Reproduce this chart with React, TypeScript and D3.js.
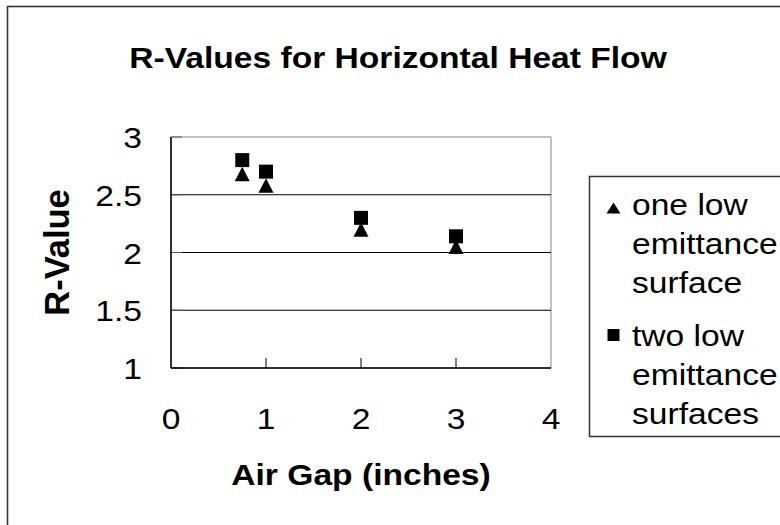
import React from "react";
import * as d3 from "d3";

// air gap (inches) and measured R-values
const gaps = [0.75, 1, 2, 3];
const oneLowE = [2.68, 2.58, 2.2, 2.05];
const twoLowE = [2.8, 2.7, 2.3, 2.14];

const xTicks = [0, 1, 2, 3, 4];
const yTicks = [1, 1.5, 2, 2.5, 3];

const legendOne = ["one low", "emittance", "surface"];
const legendTwo = ["two low", "emittance", "surfaces"];

const W = 780;
const H = 525;
const plot = { left: 171, right: 551, top: 137, bottom: 368 };
const font = "'Liberation Sans', Arial, Helvetica, sans-serif";
// the source renders horizontal text a little wider than it is tall
const SX = 1.12;
const FS = 30;

const x = d3.scaleLinear().domain([0, 4]).range([plot.left, plot.right]);
const y = d3.scaleLinear().domain([1, 3]).range([plot.bottom, plot.top]);

const triangle = (cx: number, cy: number, w: number, h: number) =>
  `M${cx},${cy - h / 2}L${cx + w / 2},${cy + h / 2}L${cx - w / 2},${cy + h / 2}Z`;

const square = (cx: number, cy: number, s: number) =>
  `M${cx - s / 2},${cy - s / 2}h${s}v${s}h${-s}Z`;

type TProps = {
  x: number;
  y: number;
  anchor?: "start" | "middle" | "end";
  bold?: boolean;
  children: React.ReactNode;
};

const Label = ({ x, y, anchor = "start", bold = false, children }: TProps) => (
  <text
    transform={`translate(${x},${y}) scale(${SX},1)`}
    textAnchor={anchor}
    fontFamily={font}
    fontWeight={bold ? "bold" : "normal"}
    fontSize={FS}
    fill="#000"
  >
    {children}
  </text>
);

export default function App() {
  return (
    <div style={{ position: "fixed", left: 0, top: 0 }}>
      <svg width={W} height={H} style={{ display: "block", background: "#fff" }}>
        {/* chart frame, runs off the right and bottom */}
        <rect x={7.5} y={6.5} width={820} height={560} fill="#fff" stroke="#333" strokeWidth={1.6} />

        <Label x={398} y={68} anchor="middle" bold>
          R-Values for Horizontal Heat Flow
        </Label>

        {/* plot area */}
        <rect
          x={plot.left}
          y={plot.top}
          width={plot.right - plot.left}
          height={plot.bottom - plot.top}
          fill="#fff"
          stroke="#888"
          strokeWidth={1}
        />
        {yTicks
          .filter((t) => t > 1 && t < 3)
          .map((t) => (
            <line key={"g" + t} x1={plot.left} x2={plot.right} y1={y(t)} y2={y(t)} stroke="#000" strokeWidth={1} />
          ))}
        {yTicks.map((t) => (
          <line key={"yt" + t} x1={plot.left} x2={plot.left + 11} y1={y(t)} y2={y(t)} stroke="#555" strokeWidth={1} />
        ))}
        {xTicks
          .filter((t) => t > 0 && t < 4)
          .map((t) => (
            <line key={"xt" + t} x1={x(t)} x2={x(t)} y1={plot.bottom} y2={plot.bottom - 10} stroke="#000" strokeWidth={1} />
          ))}
        <line x1={plot.left} x2={plot.left} y1={plot.top} y2={plot.bottom} stroke="#000" strokeWidth={1.5} />
        <line x1={plot.left} x2={plot.right} y1={plot.bottom} y2={plot.bottom} stroke="#000" strokeWidth={1.5} />

        {/* tick labels */}
        {yTicks.map((t) => (
          <Label key={"yl" + t} x={142} y={y(t) + 11} anchor="end">
            {d3.format("")(t)}
          </Label>
        ))}
        {xTicks.map((t) => (
          <Label key={"xl" + t} x={x(t)} y={429} anchor="middle">
            {t}
          </Label>
        ))}

        <Label x={361} y={485} anchor="middle" bold>
          Air Gap (inches)
        </Label>
        <text
          transform={`translate(69,${(plot.top + plot.bottom) / 2}) rotate(-90)`}
          textAnchor="middle"
          fontFamily={font}
          fontWeight="bold"
          fontSize={34.5}
        >
          R-Value
        </text>

        {/* markers */}
        {gaps.map((g, i) => (
          <path key={"s" + i} d={square(x(g), y(twoLowE[i]), 14)} fill="#000" />
        ))}
        {gaps.map((g, i) => (
          <path key={"t" + i} d={triangle(x(g), y(oneLowE[i]), 15, 14.5)} fill="#000" />
        ))}

        {/* legend */}
        <rect x={589.5} y={176.5} width={260} height={260} fill="#fff" stroke="#333" strokeWidth={1.5} />
        <path d={triangle(613.5, 208, 14, 11)} fill="#000" />
        {legendOne.map((s, i) => (
          <Label key={"l1" + i} x={632} y={215 + i * 39}>
            {s}
          </Label>
        ))}
        <path d={square(613.5, 335, 12)} fill="#000" />
        {legendTwo.map((s, i) => (
          <Label key={"l2" + i} x={632} y={346 + i * 39}>
            {s}
          </Label>
        ))}
      </svg>
    </div>
  );
}
